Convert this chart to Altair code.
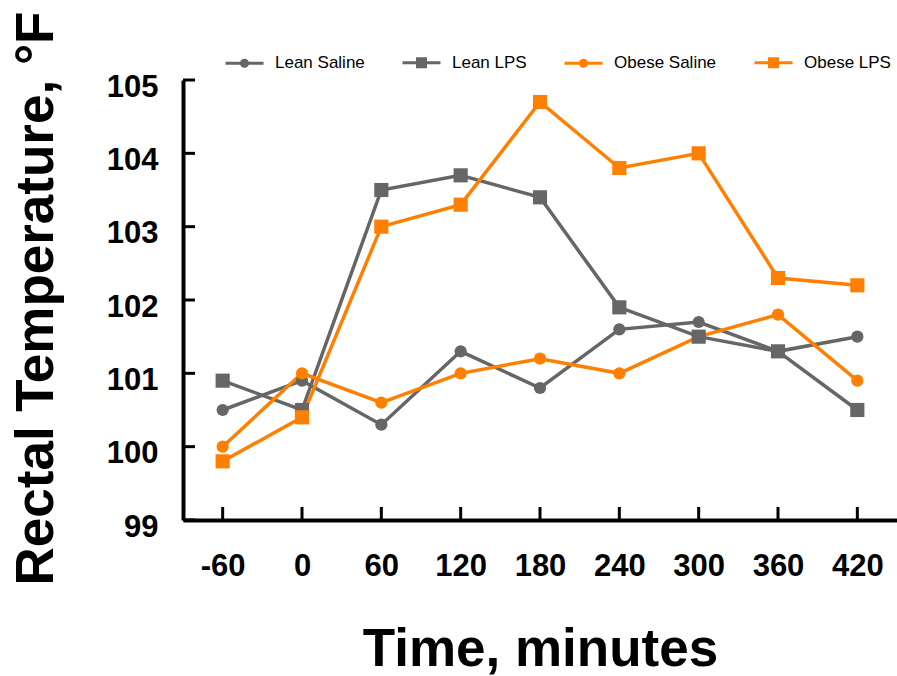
import altair as alt
import pandas as pd

# ---- data ----
times = [-60, 0, 60, 120, 180, 240, 300, 360, 420]
series_names = ["Lean Saline", "Lean LPS", "Obese Saline", "Obese LPS"]
lean_saline = [100.5, 100.9, 100.3, 101.3, 100.8, 101.6, 101.7, 101.3, 101.5]
lean_lps = [100.9, 100.5, 103.5, 103.7, 103.4, 101.9, 101.5, 101.3, 100.5]
obese_saline = [100.0, 101.0, 100.6, 101.0, 101.2, 101.0, 101.5, 101.8, 100.9]
obese_lps = [99.8, 100.4, 103.0, 103.3, 104.7, 103.8, 104.0, 102.3, 102.2]
y_ticks = [99, 100, 101, 102, 103, 104, 105]

colors = ["#666666", "#666666", "#ff8000", "#ff8000"]

rows = []
for name, vals in zip(series_names, [lean_saline, lean_lps, obese_saline, obese_lps]):
    for t, v in zip(times, vals):
        rows.append({"time": t, "temp": v, "series": name})
df = pd.DataFrame(rows)
xtick_df = pd.DataFrame({"time": times})
ytick_df = pd.DataFrame({"temp": y_ticks})

W, H = 714, 440
FONT = "Liberation Sans"

x_scale = alt.Scale(domain=[-90, 450], nice=False, zero=False)
y_scale = alt.Scale(domain=[99, 105], nice=False, zero=False)
color_scale = alt.Scale(domain=series_names, range=colors)

x_axis = alt.Axis(
    values=times, ticks=False, tickSize=0, grid=False,
    domainColor="black", domainWidth=4,
    labelFont=FONT, labelFontSize=31, labelFontWeight="bold", labelColor="black",
    labelPadding=31, labelBaseline="top", labelExpr="'' + datum.value",
    title="Time, minutes", titleFont=FONT, titleFontSize=53, titleFontWeight="bold",
    titleColor="black", titleX=W / 2, titleY=145, titleAlign="center",
    titleBaseline="alphabetic", titleAnchor="middle",
)
y_axis = alt.Axis(
    values=y_ticks, ticks=False, tickSize=0, grid=False,
    domainColor="black", domainWidth=4,
    labelFont=FONT, labelFontSize=31, labelFontWeight="bold", labelColor="black",
    labelPadding=25, labelOffset=7, labelBaseline="middle",
    title="Rectal Temperature, °F", titleFont=FONT, titleFontSize=53,
    titleFontWeight="bold", titleColor="black", titleAngle=-90,
    titleX=-131, titleY=H / 2 - 2, titleAlign="center", titleBaseline="alphabetic",
    titleAnchor="middle",
)

X = alt.X("time:Q", scale=x_scale, axis=x_axis)
Y = alt.Y("temp:Q", scale=y_scale, axis=y_axis)

# inward tick marks
xticks = alt.Chart(xtick_df).mark_rule(color="black", strokeWidth=3).encode(
    x=X, y=alt.value(H), y2=alt.value(H - 13)
)
yticks = alt.Chart(ytick_df).mark_rule(color="black", strokeWidth=3).encode(
    y=Y, x=alt.value(0), x2=alt.value(12)
)

lines = alt.Chart(df).mark_line(strokeWidth=3.5).encode(
    x=X, y=Y,
    color=alt.Color("series:N", scale=color_scale, legend=None),
)

saline = ["Lean Saline", "Obese Saline"]
circles = alt.Chart(df).transform_filter(
    alt.FieldOneOfPredicate(field="series", oneOf=saline)
).mark_point(filled=True, opacity=1, shape="circle", size=150).encode(
    x=X, y=Y,
    color=alt.Color("series:N", scale=color_scale, legend=None),
)
squares = alt.Chart(df).transform_filter(
    ~alt.FieldOneOfPredicate(field="series", oneOf=saline)
).mark_point(filled=True, opacity=1, shape="square", size=200).encode(
    x=X, y=Y,
    color=alt.Color("series:N", scale=color_scale, legend=None),
)

# legend symbols: a line with a marker on it (stroked paths, filled by stroke width)
circ = "M-1,0L1,0M-0.16,0A0.16,0.16,0,1,1,0.16,0A0.16,0.16,0,1,1,-0.16,0Z"
sq = ("M-1,0L1,0M-0.21,-0.21L0.21,-0.21L0.21,0.21L-0.21,0.21Z"
      "M-0.21,-0.1L0.21,-0.1M-0.21,0.1L0.21,0.1")

leg = alt.Legend(
    title=None, orient="none", legendX=41, legendY=-38, direction="horizontal",
    columnPadding=31, symbolSize=1444, symbolStrokeWidth=3, padding=0,
    labelFont=FONT, labelFontSize=17, labelColor="black", labelOffset=10,
)

legend_layer = alt.Chart(df).transform_filter("datum.temp > 1000").mark_point(
    filled=False, opacity=1, strokeWidth=3
).encode(
    x=X, y=Y,
    color=alt.Color("series:N", scale=alt.Scale(domain=series_names, range=colors), legend=leg),
    shape=alt.Shape("series:N", scale=alt.Scale(domain=series_names,
                    range=[circ, sq, circ, sq]), legend=leg),
)

chart = alt.layer(xticks, yticks, lines, circles, squares, legend_layer).resolve_scale(
    color="independent", shape="independent"
).properties(
    width=W, height=H,
    padding={"left": 183, "top": 80, "right": 0, "bottom": 156},
    autosize="none",
).configure_view(stroke=None)

chart.save("out.html", embed_options={"renderer": "svg", "actions": False})
